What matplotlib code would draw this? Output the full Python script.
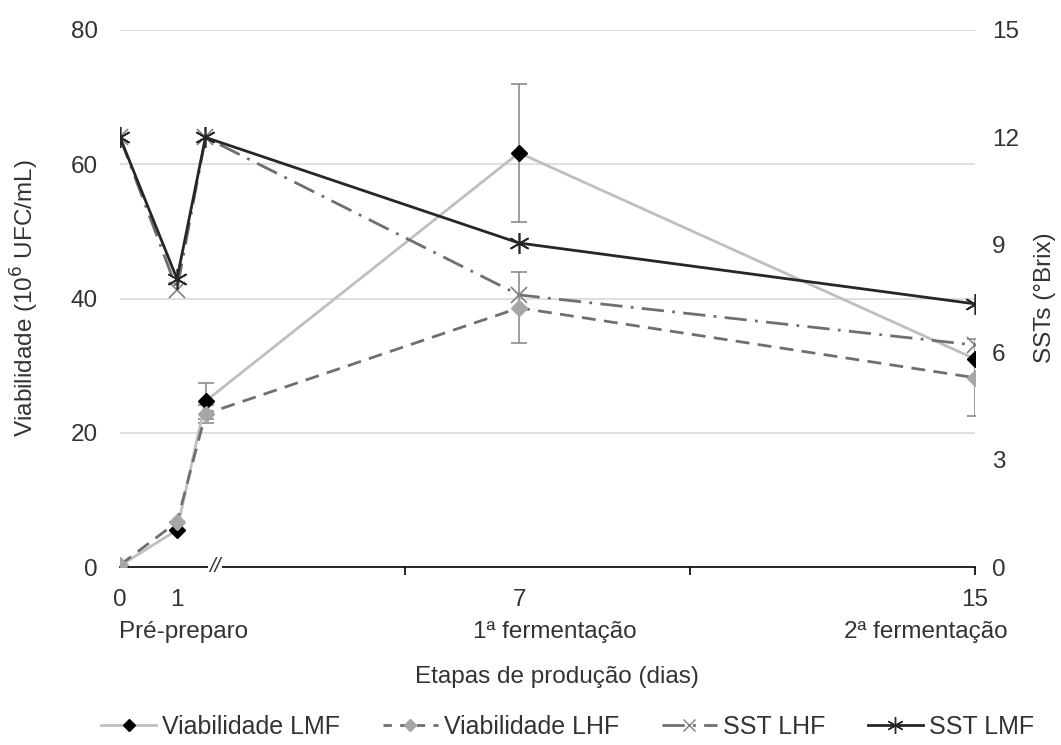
import matplotlib
matplotlib.use('Agg')
from matplotlib import pyplot as plt
from matplotlib import transforms
from matplotlib.lines import Line2D

plt.rcParams['font.family'] = ['Liberation Sans', 'DejaVu Sans']

# dias de cada etapa (o terceiro ponto fica logo depois da quebra do eixo)
dias = [0, 1, 1.5, 7, 15]

# viabilidade (10^6 UFC/mL)
viab_lmf = [0.2, 5.5, 24.7, 61.7, 31.0]
viab_lmf_err = [0, 0, 2.7, 10.3, 0]
viab_lhf = [0.3, 6.7, 22.8, 38.6, 28.2]
viab_lhf_err = [0, 0, 1.3, 5.3, 5.7]

# sólidos solúveis totais (°Brix)
sst_lhf = [12.0, 7.75, 12.0, 7.6, 6.2]
sst_lmf = [12.0, 8.05, 12.0, 9.05, 7.35]

rotulos_dias = ['0', '1', '7', '15']
pos_rotulos = [0, 1, 7, 15]
etapas = ['Pré-preparo', '1ª fermentação', '2ª fermentação']
pos_etapas = [1.12, 7.63, 14.14]

cor_texto = '#333333'
fs = 17.5

fig = plt.figure(figsize=(10.61, 7.45), dpi=100)
ax = fig.add_axes([120 / 1061, 1 - 567 / 745, 855 / 1061, 537 / 745])
ax2 = ax.twinx()

ax.errorbar(dias, viab_lmf, yerr=viab_lmf_err, color='#bfbfbf', lw=2,
            marker='D', ms=8.5, mfc='black', mec='black',
            ecolor='#8c8c8c', elinewidth=1.2, capsize=6, capthick=1.2, zorder=3)
ax.errorbar(dias, viab_lhf, yerr=viab_lhf_err, color='#6f6f6f', lw=2,
            ls=(0, (5, 3)), marker='D', ms=8.5, mfc='#a6a6a6', mec='#a6a6a6',
            ecolor='#8c8c8c', elinewidth=1.2, capsize=6, capthick=1.2, zorder=3)

ax2.plot(dias, sst_lhf, color='#6f6f6f', lw=2, ls=(0, (8, 3, 1, 3)),
         marker='x', ms=11, mew=1.2, mec='#808080')
ax2.plot(dias, sst_lmf, color='#262626', lw=2,
         marker=(6, 2, 0), ms=15, mew=1.2, mec='#262626')

ax.set_xlim(0, 15)
ax.set_ylim(0, 80)
ax2.set_ylim(0, 15)
ax.set_yticks([0, 20, 40, 60, 80])
ax2.set_yticks([0, 3, 6, 9, 12, 15])
ax.grid(axis='y', color='#d9d9d9', lw=1.2)
ax.set_axisbelow(True)

for a in (ax, ax2):
    for s in ['top', 'left', 'right', 'bottom']:
        a.spines[s].set_visible(False)
ax.tick_params(axis='y', length=0, labelsize=fs, labelcolor=cor_texto, pad=16)
ax2.tick_params(axis='y', length=0, labelsize=fs, labelcolor=cor_texto, pad=12)
ax.spines['bottom'].set_visible(True)
ax.spines['bottom'].set_color('black')
ax.spines['bottom'].set_linewidth(1.2)

ax.set_xticks([5, 10, 15])
ax.set_xticklabels([])
ax.tick_params(axis='x', length=6, width=1.2, direction='out', color='black')

# quebra do eixo
ax.text(1.67, 0, '//', ha='center', va='center', fontsize=15, color=cor_texto,
        style='italic',
        bbox=dict(facecolor='white', edgecolor='none', pad=1), zorder=5,
        clip_on=False)

trans = transforms.blended_transform_factory(ax.transData, ax.transAxes)
for p, r in zip(pos_rotulos, rotulos_dias):
    ax.text(p, -0.0615, r, transform=trans, ha='center', va='center',
            fontsize=fs, color=cor_texto)
for p, e in zip(pos_etapas, etapas):
    ax.text(p, -0.121, e, transform=trans, ha='center', va='center',
            fontsize=fs, color=cor_texto)

fig.text(557 / 1061, 1 - 677 / 745, 'Etapas de produção (dias)', ha='center',
         va='center', fontsize=fs, color=cor_texto)
fig.text(25 / 1061, 1 - 298 / 745, 'Viabilidade (10$^6$ UFC/mL)', ha='center',
         va='center', rotation=90, fontsize=fs, color=cor_texto)
fig.text(1045 / 1061, 1 - 298 / 745, 'SSTs (°Brix)', ha='center',
         va='center', rotation=90, fontsize=fs, color=cor_texto)

# legenda sem as barras de erro
handles = [
    Line2D([], [], color='#bfbfbf', lw=2, marker='D', ms=6, mfc='black', mec='black'),
    Line2D([], [], color='#6f6f6f', lw=2, ls=(0, (3, 3)), marker='D', ms=6,
           mfc='#a6a6a6', mec='#a6a6a6'),
    Line2D([], [], color='#6f6f6f', lw=2, ls=(0, (8, 3, 1, 3)), marker='x',
           ms=9, mew=1, mec='#808080'),
    Line2D([], [], color='#262626', lw=2, marker=(6, 2, 0), ms=12, mew=1),
]
nomes = ['Viabilidade LMF', 'Viabilidade LHF', 'SST LHF', 'SST LMF']
fig.legend(handles, nomes, loc='center', ncol=4,
           bbox_to_anchor=(0.535, 1 - 727 / 745), frameon=False, fontsize=18,
           labelcolor=cor_texto, handlelength=2.2, columnspacing=1.7,
           handletextpad=0.25)

fig.savefig('out.png', dpi=100)
